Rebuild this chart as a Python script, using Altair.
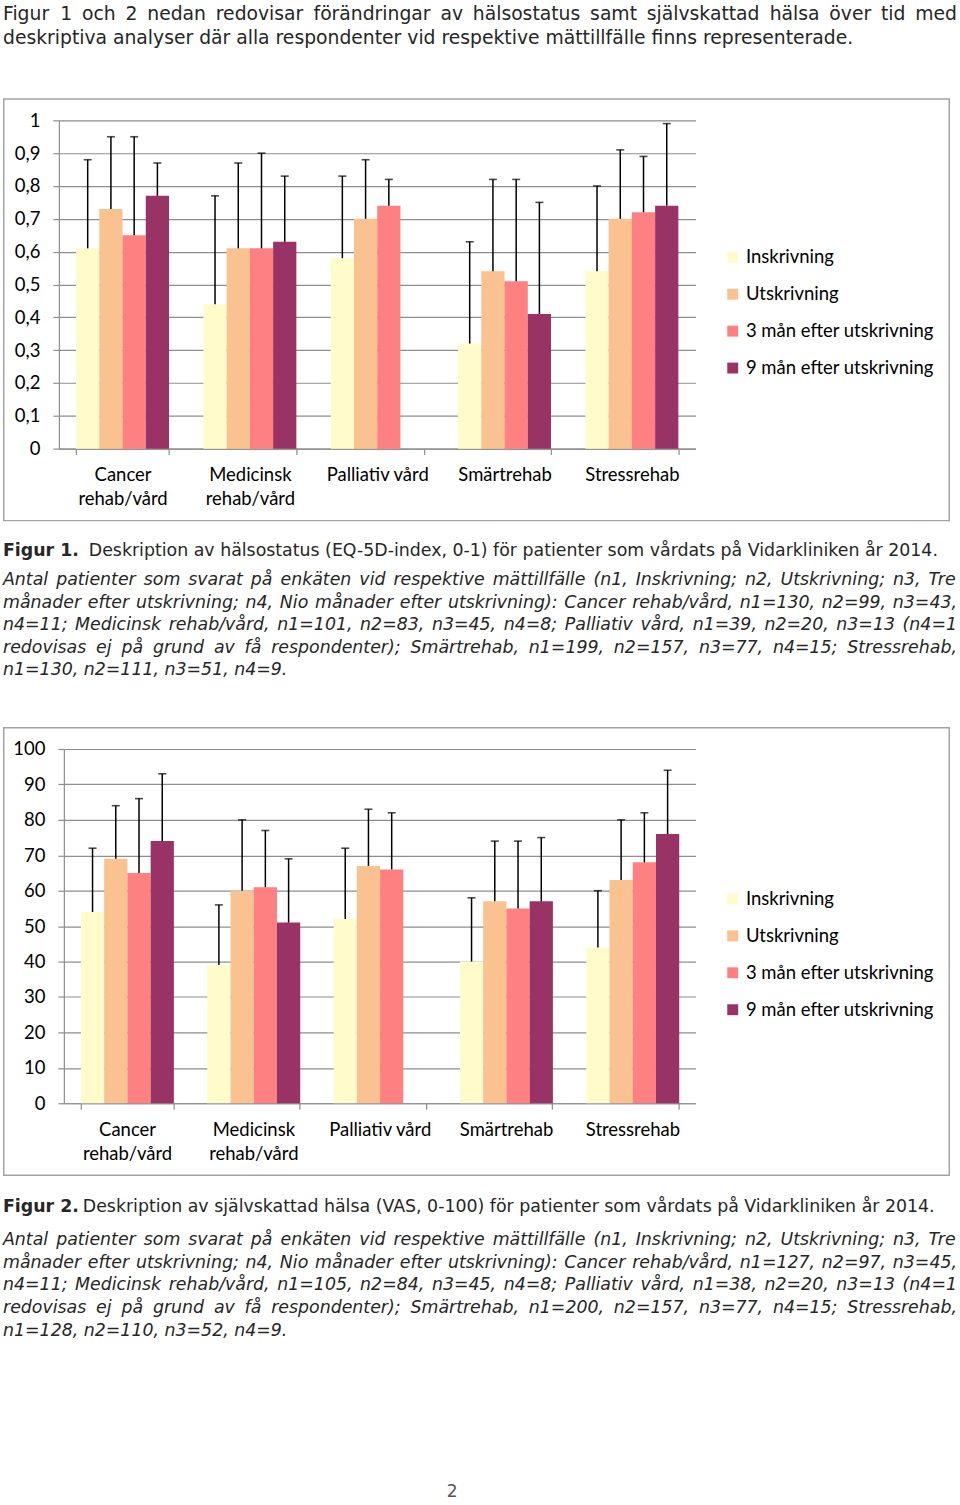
import altair as alt
import pandas as pd

# ---------------- data ----------------
categories = ["Cancer rehab/vård", "Medicinsk rehab/vård", "Palliativ vård", "Smärtrehab", "Stressrehab"]
series = ["Inskrivning", "Utskrivning", "3 mån efter utskrivning", "9 mån efter utskrivning"]
colors = ["#FFFBCB", "#FAC191", "#FF8080", "#993366"]

# Figur 1: EQ-5D-index (mean and SD)
eq_insk = [0.61, 0.44, 0.58, 0.32, 0.54]
eq_utsk = [0.73, 0.61, 0.70, 0.54, 0.70]
eq_3m = [0.65, 0.61, 0.74, 0.51, 0.72]
eq_9m = [0.77, 0.63, None, 0.41, 0.74]
eq_sd_insk = [0.27, 0.33, 0.25, 0.31, 0.26]
eq_sd_utsk = [0.22, 0.26, 0.18, 0.28, 0.21]
eq_sd_3m = [0.30, 0.29, 0.08, 0.31, 0.17]
eq_sd_9m = [0.10, 0.20, None, 0.34, 0.25]

# Figur 2: VAS (mean and SD)
vas_insk = [54, 39, 52, 40, 44]
vas_utsk = [69, 60, 67, 57, 63]
vas_3m = [65, 61, 66, 55, 68]
vas_9m = [74, 51, None, 57, 76]
vas_sd_insk = [18, 17, 20, 18, 16]
vas_sd_utsk = [15, 20, 16, 17, 17]
vas_sd_3m = [21, 16, 16, 19, 14]
vas_sd_9m = [19, 18, None, 18, 18]

eq_ticks = [0, 0.1, 0.2, 0.3, 0.4, 0.5, 0.6, 0.7, 0.8, 0.9, 1]
vas_ticks = [0, 10, 20, 30, 40, 50, 60, 70, 80, 90, 100]

header_lines = [
    "Figur 1 och 2 nedan redovisar förändringar av hälsostatus samt självskattad hälsa över tid med",
    "deskriptiva analyser där alla respondenter vid respektive mättillfälle finns representerade.",
]
fig1_label = "Figur 1."
fig1_title = "Deskription av hälsostatus (EQ-5D-index, 0-1) för patienter som vårdats på Vidarkliniken år 2014."
fig1_note = [
    "Antal patienter som svarat på enkäten vid respektive mättillfälle (n1, Inskrivning; n2, Utskrivning; n3, Tre",
    "månader efter utskrivning; n4, Nio månader efter utskrivning): Cancer rehab/vård, n1=130, n2=99, n3=43,",
    "n4=11; Medicinsk rehab/vård, n1=101, n2=83, n3=45, n4=8; Palliativ vård, n1=39, n2=20, n3=13 (n4=1",
    "redovisas ej på grund av få respondenter); Smärtrehab, n1=199, n2=157, n3=77, n4=15; Stressrehab,",
    "n1=130, n2=111, n3=51, n4=9.",
]
fig2_label = "Figur 2."
fig2_title = "Deskription av självskattad hälsa (VAS, 0-100) för patienter som vårdats på Vidarkliniken år 2014."
fig2_note = [
    "Antal patienter som svarat på enkäten vid respektive mättillfälle (n1, Inskrivning; n2, Utskrivning; n3, Tre",
    "månader efter utskrivning; n4, Nio månader efter utskrivning): Cancer rehab/vård, n1=127, n2=97, n3=45,",
    "n4=11; Medicinsk rehab/vård, n1=105, n2=84, n3=45, n4=8; Palliativ vård, n1=38, n2=20, n3=13 (n4=1",
    "redovisas ej på grund av få respondenter); Smärtrehab, n1=200, n2=157, n3=77, n4=15; Stressrehab,",
    "n1=128, n2=110, n3=52, n4=9.",
]
page_number = "2"


def build_df(means, sds):
    rows = []
    for s, m_list, sd_list in zip(series, means, sds):
        for c, m, sd in zip(categories, m_list, sd_list):
            if m is None:
                continue
            rows.append({"cat": c, "series": s, "mean": m, "upper": m + sd})
    return pd.DataFrame(rows)


df_eq = build_df([eq_insk, eq_utsk, eq_3m, eq_9m], [eq_sd_insk, eq_sd_utsk, eq_sd_3m, eq_sd_9m])
df_vas = build_df([vas_insk, vas_utsk, vas_3m, vas_9m], [vas_sd_insk, vas_sd_utsk, vas_sd_3m, vas_sd_9m])

CHART_FONT = "Lato"
CHART_FS = 18.5
TEXT_FONT = "DejaVu Sans"
GRID = "#8E8E8E"
BOX = "#A3A3A3"
INK = "#262626"

ORIGIN = 58          # every cell's origin sits at this page x
PAGE_W = 960
ONE = pd.DataFrame({"k": [0]})


def width_guard(top):
    # white line spanning the full page width, so every cell has the same horizontal bounds
    return alt.Chart(ONE).mark_rule(color="white", strokeWidth=1).encode(
        x=alt.value(-ORIGIN), x2=alt.value(PAGE_W - ORIGIN), y=alt.value(top)
    )


def bar_panel(df, ymax, ticks, label_expr, plot_left, plot_right, plot_top, plot_h, box_top, box_h,
              legend_row1_y):
    inset = plot_left - ORIGIN
    top = plot_top - box_top
    x = alt.X(
        "cat:N",
        sort=categories,
        scale=alt.Scale(domain=categories, paddingInner=0.27, paddingOuter=0.135,
                        range=[inset, plot_right - ORIGIN]),
        axis=alt.Axis(
            title=None,
            labelExpr="indexof(datum.label, ' rehab/vård') > 0 ? [replace(datum.label, ' rehab/vård', ''), 'rehab/vård'] : datum.label",
            tickBand="extent",
            tickSize=6,
            tickColor=GRID,
            tickWidth=1.2,
            domainColor=GRID,
            domainWidth=1.2,
            labelFont=CHART_FONT,
            labelFontSize=CHART_FS,
            labelColor="#000000",
            labelAngle=0,
            labelPadding=11,
            labelBaseline="top",
            labelLineHeight=24,
            grid=False,
        ),
    )
    xo = alt.XOffset("series:N", sort=series,
                     scale=alt.Scale(domain=series, paddingInner=0, paddingOuter=0))
    yaxis = alt.Axis(
        title=None,
        values=ticks,
        labelExpr=label_expr,
        offset=-inset,
        tickSize=6,
        tickColor=GRID,
        tickWidth=1.2,
        domainColor=GRID,
        domainWidth=1.2,
        gridColor=GRID,
        gridWidth=1.2,
        labelFont=CHART_FONT,
        labelFontSize=CHART_FS,
        labelColor="#000000",
        labelPadding=13,
    )
    yscale = alt.Scale(domain=[0, ymax], nice=False, zero=True)

    box = alt.Chart(ONE).mark_rect(fillOpacity=0, stroke=BOX, strokeWidth=1.5).encode(
        x=alt.value(2 - ORIGIN + 0.75), x2=alt.value(951 - ORIGIN - 0.75),
        y=alt.value(-top + 0.75), y2=alt.value(-top + box_h - 0.75)
    )
    bars = alt.Chart(df).mark_bar().encode(
        x=x, xOffset=xo,
        y=alt.Y("mean:Q", scale=yscale, axis=yaxis),
        color=alt.Color(
            "series:N",
            sort=series,
            scale=alt.Scale(domain=series, range=colors),
            legend=alt.Legend(
                title=None,
                orient="none",
                legendX=724 - ORIGIN,
                legendY=legend_row1_y - 8 - plot_top,
                symbolType="square",
                symbolSize=120,
                symbolStrokeWidth=0,
                labelFont=CHART_FONT,
                labelFontSize=CHART_FS,
                labelColor="#000000",
                labelOffset=4,
                rowPadding=18,
                padding=0,
                labelLimit=400,
            ),
        ),
    )
    err = alt.Chart(df).mark_rule(color="black", strokeWidth=1.5).encode(
        x=x, xOffset=xo,
        y=alt.Y("mean:Q", scale=yscale, axis=yaxis),
        y2="upper:Q",
    )
    cap = alt.Chart(df).mark_tick(color="black", size=8, thickness=1.6).encode(
        x=x, xOffset=xo,
        y=alt.Y("upper:Q", scale=yscale, axis=yaxis),
    )
    return alt.layer(width_guard(-top + 0.5), box, bars, err, cap).properties(
        width=plot_right - ORIGIN, height=plot_h
    )


# ---------------- text helpers ----------------
W = {
    " ": 318, ",": 318, ".": 318, ";": 337, ":": 337, "(": 390, ")": 390, "-": 361, "=": 838, "/": 337,
    "a": 613, "b": 635, "c": 550, "d": 635, "e": 615, "f": 352, "g": 635, "h": 634, "i": 278, "j": 278,
    "k": 579, "l": 278, "m": 974, "n": 634, "o": 612, "p": 635, "q": 635, "r": 411, "s": 521, "t": 392,
    "u": 634, "v": 592, "w": 818, "x": 592, "y": 592, "z": 525, "å": 613, "ä": 613, "ö": 612,
    "A": 684, "B": 686, "C": 698, "D": 770, "E": 632, "F": 575, "G": 775, "H": 752, "I": 295, "J": 295,
    "K": 656, "L": 557, "M": 863, "N": 748, "O": 787, "P": 603, "Q": 787, "R": 695, "S": 635, "T": 611,
    "U": 732, "V": 684, "W": 989, "X": 685, "Y": 611, "Z": 685,
}
for d in "0123456789":
    W[d] = 636


def tw(s, fs):
    return sum(W.get(ch, 600) for ch in s) * fs / 1000.0


def line_rows(line, y, fs, justify, x0=2, x1=958):
    # positions are page x; converted to cell coordinates (origin at ORIGIN)
    if not justify:
        return [{"x": x0 - ORIGIN, "y": y, "text": line}]
    words = line.split(" ")
    widths = [tw(w, fs) for w in words]
    gap = (x1 - x0 - sum(widths)) / (len(words) - 1)
    rows, x = [], x0
    for w, wd in zip(words, widths):
        rows.append({"x": x - ORIGIN, "y": y, "text": w})
        x += wd + gap
    return rows


def text_layer(rows, **style):
    return alt.Chart(pd.DataFrame(rows)).mark_text(baseline="alphabetic", **style).encode(
        x=alt.X("x:Q", scale=None, axis=None),
        y=alt.Y("y:Q", scale=None, axis=None),
        text="text:N",
    )


# header cell (page y 0..97)
FS_H = 18.8
hdr_rows = line_rows(header_lines[0], 18.5, FS_H, True) + line_rows(header_lines[1], 42.5, FS_H, False)
header = alt.layer(
    width_guard(0.5),
    text_layer(hdr_rows, align="left", font=TEXT_FONT, fontSize=FS_H, color=INK),
).properties(width=PAGE_W - ORIGIN, height=97)

FS_C = 17.4


def caption_cell(label, title, title_x, notes, title_y, note_y0, step, height, extra=None):
    note_rows = []
    for i, ln in enumerate(notes):
        note_rows += line_rows(ln, note_y0 + i * step, FS_C, i < len(notes) - 1)
    layers = [
        width_guard(0.5),
        text_layer([{"x": 2 - ORIGIN, "y": title_y, "text": label}], align="left", font=TEXT_FONT,
                   fontSize=FS_C, fontWeight="bold", color=INK),
        text_layer([{"x": title_x - ORIGIN, "y": title_y, "text": title}], align="left", font=TEXT_FONT,
                   fontSize=FS_C, color=INK),
        text_layer(note_rows, align="left", font=TEXT_FONT, fontSize=FS_C, fontStyle="italic", color=INK),
    ]
    if extra is not None:
        layers.append(extra)
    return alt.layer(*layers).properties(width=PAGE_W - ORIGIN, height=height)


chart1 = bar_panel(df_eq, 1, eq_ticks, "replace(format(datum.value, '.1~f'), '.', ',')",
                   58, 696, 119, 329, 97, 424, 255)
cap1 = caption_cell(fig1_label, fig1_title, 88, fig1_note, 34.5, 63.5, 22.7, 206)
chart2 = bar_panel(df_vas, 100, vas_ticks, "format(datum.value, 'd')",
                   63, 696, 749, 355, 727, 450, 898)
pnum = text_layer([{"x": 452 - ORIGIN, "y": 322, "text": page_number}], align="center", font=TEXT_FONT,
                  fontSize=17, color="#555555")
cap2 = caption_cell(fig2_label, fig2_title, 82, fig2_note, 36, 69, 22.8, 328, extra=pnum)

chart = alt.vconcat(header, chart1, cap1, chart2, cap2, spacing=0).properties(
    padding=0, background="white"
).resolve_legend(color="independent").configure_view(stroke=None)

chart.save("out.html", embed_options={"renderer": "svg", "actions": False})
